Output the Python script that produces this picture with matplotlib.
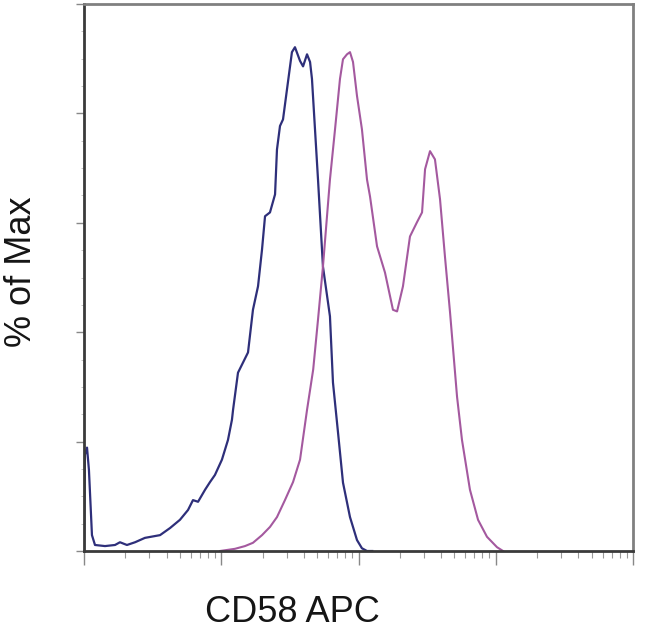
import numpy as np
import matplotlib
matplotlib.use('Agg')
import matplotlib.pyplot as plt
from matplotlib.ticker import LogLocator, MultipleLocator, NullFormatter

plt.rcParams['font.family'] = ['Liberation Sans', 'DejaVu Sans']

# isotype control histogram (log10 of CD58 APC intensity, % of max)
control_log = [0.0, 0.007, 0.022, 0.036, 0.058, 0.080, 0.153, 0.226, 0.262, 0.313,
               0.372, 0.444, 0.554, 0.627, 0.699, 0.758, 0.794, 0.831, 0.882, 0.918,
               0.954, 1.005, 1.049, 1.078, 1.086, 1.122, 1.195, 1.231, 1.268, 1.297,
               1.319, 1.355, 1.392, 1.406, 1.428, 1.450, 1.479, 1.515, 1.537, 1.574,
               1.596, 1.625, 1.647, 1.661, 1.683, 1.705, 1.741, 1.792, 1.814, 1.851,
               1.887, 1.938, 1.989, 2.025, 2.062, 2.10]
control_pct = [0.0, 17.6, 18.9, 14.8, 2.9, 1.1, 0.9, 1.1, 1.6, 1.1,
               1.6, 2.4, 2.9, 4.2, 5.7, 7.5, 9.3, 9.0, 11.2, 12.6,
               13.9, 16.7, 20.3, 24.0, 25.8, 32.6, 36.3, 44.1, 48.4, 55.1,
               61.2, 61.9, 65.2, 73.4, 77.7, 78.9, 84.4, 91.2, 92.1, 89.6,
               88.6, 90.8, 89.4, 86.3, 77.1, 67.9, 52.0, 42.9, 30.8, 21.6,
               12.5, 6.2, 2.0, 0.5, 0.0, 0.0]

# CD58 APC stained histogram
cd58_log = [0.991, 1.100, 1.173, 1.231, 1.297, 1.355, 1.406, 1.464, 1.523, 1.574,
            1.625, 1.670, 1.705, 1.741, 1.792, 1.829, 1.865, 1.887, 1.916, 1.938,
            1.960, 1.989, 2.025, 2.062, 2.084, 2.135, 2.193, 2.251, 2.281, 2.324,
            2.375, 2.426, 2.463, 2.485, 2.521, 2.557, 2.594, 2.630, 2.667, 2.718,
            2.754, 2.812, 2.871, 2.936, 3.009, 3.053]
cd58_pct = [0.0, 0.4, 0.9, 1.5, 2.9, 4.4, 6.2, 9.3, 12.6, 16.7,
            25.8, 33.2, 42.3, 52.0, 67.9, 77.1, 86.3, 89.9, 90.8, 91.2,
            89.4, 83.2, 77.1, 67.9, 64.8, 55.7, 50.9, 44.1, 43.8, 48.4,
            57.5, 60.1, 61.9, 69.8, 73.1, 71.6, 64.3, 53.8, 43.6, 28.2,
            20.3, 11.2, 5.7, 2.6, 0.7, 0.0]

fig = plt.figure(figsize=(6.5, 6.33), dpi=100)
ax = fig.add_axes([84 / 650, 1 - 551 / 633, (633 - 84) / 650, (551 - 4) / 633])

ax.plot(10 ** np.array(control_log), control_pct, color='#2e2f7a', lw=1.6)
ax.plot(10 ** np.array(cd58_log), cd58_pct, color='#a4599f', lw=1.5)

ax.set_xscale('log')
ax.set_xlim(1, 1e4)
ax.set_ylim(0, 100)

ax.xaxis.set_major_locator(LogLocator(base=10, numticks=10))
ax.xaxis.set_minor_locator(LogLocator(base=10, subs=np.arange(2, 10), numticks=10))
ax.xaxis.set_major_formatter(NullFormatter())
ax.xaxis.set_minor_formatter(NullFormatter())
ax.yaxis.set_major_locator(MultipleLocator(20))
ax.yaxis.set_minor_locator(MultipleLocator(5))
ax.yaxis.set_major_formatter(NullFormatter())

ax.tick_params(axis='x', which='major', length=10, width=1, color='#888888', direction='out')
ax.tick_params(axis='x', which='minor', length=5, width=0.8, color='#999999', direction='out')
ax.tick_params(axis='y', which='major', length=6, width=1, color='#888888', direction='out')
ax.tick_params(axis='y', which='minor', length=2, width=0.6, color='#bbbbbb', direction='out')
ax.tick_params(top=False, right=False)

ax.spines['left'].set_color('#3a3a3a')
ax.spines['bottom'].set_color('#3a3a3a')
ax.spines['top'].set_color('#808080')
ax.spines['right'].set_color('#808080')
for s in ax.spines.values():
    s.set_linewidth(2)

fig.text(205 / 650, 1 - 612 / 633, 'CD58 APC', fontsize=26, ha='left', va='center', color='#151515')
fig.text(22 / 650, 1 - 272 / 633, '% of Max', fontsize=26, rotation=90, ha='center', va='center', color='#151515')

fig.savefig('out.png', dpi=100)
